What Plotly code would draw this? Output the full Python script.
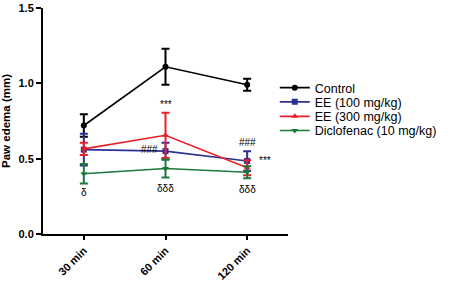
import plotly.graph_objects as go

times = ["30 min", "60 min", "120 min"]
control = [0.72, 1.11, 0.99]
control_err = [0.075, 0.12, 0.04]
ee100 = [0.56, 0.55, 0.485]
ee100_err = [0.105, 0.055, 0.065]
ee300 = [0.565, 0.655, 0.44]
ee300_err = [0.04, 0.15, 0.05]
diclo = [0.40, 0.435, 0.41]
diclo_err = [0.065, 0.06, 0.04]

series = [
    ("Control", control, control_err, "#000000", "circle"),
    ("EE (100 mg/kg)", ee100, ee100_err, "#2E3192", "square"),
    ("EE (300 mg/kg)", ee300, ee300_err, "#E8202A", "triangle-up"),
    ("Diclofenac (10 mg/kg)", diclo, diclo_err, "#1A7A3A", "triangle-down"),
]

FONT = "Liberation Sans, Arial, sans-serif"
xs = list(range(len(times)))
legend_ids = ["legend", "legend2", "legend3", "legend4"]
legend_y = [0.646, 0.583, 0.519, 0.456]

fig = go.Figure()
for (name, vals, errs, color, sym), lid in zip(series, legend_ids):
    fig.add_trace(go.Scatter(
        x=xs, y=vals, name=name, mode="lines+markers", legend=lid,
        line=dict(color=color, width=1.6),
        marker=dict(symbol=sym, size=6, color=color),
        error_y=dict(type="data", array=errs, visible=True, color=color,
                     thickness=2, width=4),
    ))

ann_font = dict(family=FONT, size=10, color="#000000")
annots = [
    # (x, y, text, xshift, yshift)
    (0, diclo[0] - diclo_err[0], "δ", 0, -9),
    (1, ee300[1] + ee300_err[1], "***", 0, 8),
    (1, ee100[1], "###", -16, 2),
    (1, diclo[1] - diclo_err[1], "δδδ", 0, -11),
    (2, ee100[2] + ee100_err[2], "###", 0, 9),
    (2, ee100[2], "***", 18, 0),
    (2, diclo[2] - diclo_err[2], "δδδ", 0, -11),
]
for x, y, t, xs_, ys_ in annots:
    fig.add_annotation(x=x, y=y, text=t, showarrow=False, font=ann_font,
                       xshift=xs_, yshift=ys_, xref="x", yref="y")

legend_common = dict(x=0.946, xanchor="left", yanchor="middle",
                     xref="paper", yref="paper",
                     font=dict(family=FONT, size=12.5), itemwidth=30,
                     bgcolor="rgba(0,0,0,0)")
layout_legends = {lid: dict(y=ly, **legend_common)
                  for lid, ly in zip(legend_ids, legend_y)}

fig.update_layout(
    width=450, height=283,
    margin=dict(l=43, r=148, t=8, b=49),
    plot_bgcolor="white", paper_bgcolor="white",
    font=dict(family=FONT, size=11, color="#000000"),
    showlegend=True,
    xaxis=dict(
        range=[-0.5, 2.5], tickmode="array", tickvals=xs,
        ticktext=["<b>%s</b>" % t for t in times], tickangle=-45,
        showline=True, linecolor="#000000", linewidth=2,
        ticks="outside", ticklen=4, tickcolor="#000000", tickwidth=1.5,
        showgrid=False, zeroline=False, automargin=False,
        tickfont=dict(family=FONT, size=11),
    ),
    yaxis=dict(
        range=[0, 1.5], tickmode="array", tickvals=[0, 0.5, 1.0, 1.5],
        ticktext=["<b>0.0</b>", "<b>0.5</b>", "<b>1.0</b>", "<b>1.5</b>"],
        showline=True, linecolor="#000000", linewidth=2,
        ticks="outside", ticklen=5, tickcolor="#000000", tickwidth=1.5,
        showgrid=False, zeroline=False, automargin=False,
        tickfont=dict(family=FONT, size=11),
        title=dict(text="<b>Paw edema (mm)</b>", font=dict(family=FONT, size=11.5)),
    ),
    **layout_legends,
)

fig.write_html(
    "out.html",
    config={"displayModeBar": False},
    post_script="document.body.style.margin='0';document.body.style.overflow='hidden';",
)
